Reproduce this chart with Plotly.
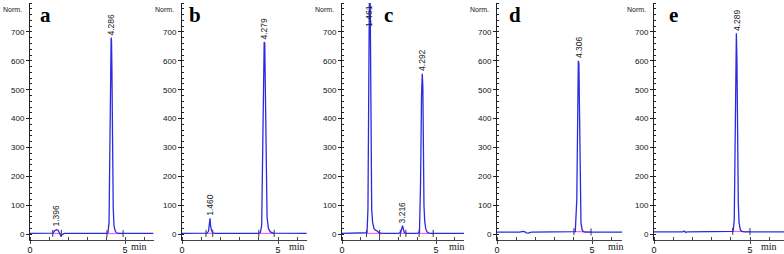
import plotly.graph_objects as go

# ---------------- data ----------------
panel_names = ["a", "b", "c", "d", "e"]

t_a = [0, 1.05, 1.2, 1.3, 1.4, 1.48, 1.55, 1.62, 1.7, 1.8, 3.95, 4.1, 4.16, 4.2, 4.24, 4.27, 4.29, 4.31, 4.34, 4.38, 4.42, 4.48, 4.55, 4.7, 6.5]
s_a = [3, 3, 4, 12, 16, 14, 6, -6, -1, 3, 3, 4, 40, 260, 590, 680, 670, 580, 280, 90, 30, 12, 5, 3, 3]

t_b = [0, 1.1, 1.3, 1.38, 1.43, 1.46, 1.49, 1.53, 1.6, 1.7, 3.95, 4.08, 4.15, 4.2, 4.24, 4.28, 4.31, 4.34, 4.38, 4.43, 4.5, 4.6, 4.75, 6.5]
s_b = [3, 3, 4, 10, 30, 55, 30, 15, 5, 3, 3, 5, 30, 310, 520, 665, 660, 520, 230, 60, 20, 8, 4, 3]

t_c = [0, 1.2, 1.33, 1.38, 1.42, 1.46, 1.5, 1.54, 1.58, 1.63, 1.7, 1.78, 1.85, 1.95, 2.1, 3.0, 3.12, 3.18, 3.22, 3.26, 3.32, 3.45, 4.0, 4.12, 4.18, 4.23, 4.27, 4.3, 4.33, 4.36, 4.4, 4.45, 4.52, 4.62, 4.8, 6.5]
s_c = [3, 3, 5, 85, 530, 860, 800, 530, 85, 40, 20, 14, 12, 6, 3, 3, 6, 20, 30, 18, 5, 3, 3, 6, 180, 480, 555, 510, 260, 100, 45, 20, 8, 4, 3, 3]

t_d = [0, 1.2, 1.35, 1.45, 1.55, 1.65, 1.8, 4.0, 4.12, 4.2, 4.24, 4.28, 4.31, 4.34, 4.38, 4.42, 4.48, 4.55, 4.65, 4.8, 6.6]
s_d = [7, 7, 10, 9, 5, 4, 7, 7, 9, 120, 430, 600, 590, 380, 150, 40, 15, 9, 7, 7, 7]

t_e = [0, 1.5, 1.58, 1.65, 1.72, 4.0, 4.12, 4.18, 4.22, 4.26, 4.29, 4.32, 4.35, 4.39, 4.43, 4.5, 4.58, 4.7, 6.8]
s_e = [8, 8, 11, 6, 8, 8, 10, 50, 260, 640, 695, 600, 310, 110, 40, 15, 10, 8, 8]

# integration baselines: (start, end, level start, level end)
base_a = [(1.2, 1.65, 3, 3), (4.05, 4.9, 2, 2)]
base_b = [(1.25, 1.6, 3, 3), (4.0, 4.8, 3, 3)]
base_c = [(1.3, 2.0, 3, 3), (3.1, 3.4, 3, 3), (4.1, 4.85, 3, 3)]
base_d = [(4.05, 4.95, 9, 8)]
base_e = [(4.1, 5.0, 10, 9)]

# peak labels: (retention time, label, label anchor level)
peaks_a = [(1.396, "1.396", 18), (4.286, "4.286", 682)]
peaks_b = [(1.460, "1.460", 57), (4.279, "4.279", 667)]
peaks_c = [(1.461, "1.461", 712), (3.216, "3.216", 32), (4.292, "4.292", 557)]
peaks_d = [(4.306, "4.306", 602)]
peaks_e = [(4.289, "4.289", 697)]

y_tick_vals = [0, 100, 200, 300, 400, 500, 600, 700]
x_tick_vals = [0, 5]

times = [t_a, t_b, t_c, t_d, t_e]
signals = [s_a, s_b, s_c, s_d, s_e]
baselines = [base_a, base_b, base_c, base_d, base_e]
peaks = [peaks_a, peaks_b, peaks_c, peaks_d, peaks_e]

# ---------------- layout geometry ----------------
W, H = 784, 254
axis_left_px = [30, 182, 342, 497, 654]
px_per_min = [19.0, 19.2, 18.8, 19.0, 19.2]
x_max = [6.5, 6.5, 6.5, 6.6, 6.77]
letter_px = [45, 195, 388, 515, 673]
min_x = [5.75, 6.0, 6.1, 6.25, 6.0]

TRACE = "#2a2ae0"
PINK = "#ff40ff"

fig = go.Figure()
annotations = []
layout = {}

for i in range(5):
    n = "" if i == 0 else str(i + 1)
    xa, ya = "x" + n, "y" + n
    x0 = axis_left_px[i] / W
    x1 = min((axis_left_px[i] + x_max[i] * px_per_min[i]) / W, 1.0)

    # integration baselines
    for (b0, b1, l0, l1) in baselines[i]:
        fig.add_trace(go.Scatter(
            x=[b0, b1], y=[l0, l1], xaxis=xa, yaxis=ya, mode="lines+markers",
            line=dict(color=PINK, width=1),
            marker=dict(symbol="line-ns", size=5, line=dict(color="#333333", width=1)),
            showlegend=False, hoverinfo="skip"))
    # signal
    fig.add_trace(go.Scatter(
        x=times[i], y=signals[i], xaxis=xa, yaxis=ya, mode="lines",
        line=dict(color=TRACE, width=1.3), showlegend=False))

    layout["xaxis" + n] = dict(
        domain=[x0, x1], range=[0, x_max[i]], anchor=ya,
        showline=True, linecolor="#444444", linewidth=1,
        showgrid=False, zeroline=False,
        tickvals=x_tick_vals, ticks="outside", ticklen=3, tickcolor="#444444",
        ticklabelstandoff=-2,
        minor=dict(dtick=1, ticks="inside", ticklen=3, tickcolor="#444444"),
        tickfont=dict(family="Arial, Liberation Sans", size=9, color="#111111"),
        automargin=False, fixedrange=True)
    layout["yaxis" + n] = dict(
        domain=[0, 1], range=[-20, 800], anchor=xa,
        showline=True, linecolor="#222222", linewidth=1,
        showgrid=False, zeroline=False,
        tickvals=y_tick_vals, ticks="outside", ticklen=3, tickcolor="#222222",
        minor=dict(dtick=20, ticks="inside", ticklen=2, tickcolor="#222222"),
        tickfont=dict(family="Arial, Liberation Sans", size=8, color="#111111"),
        automargin=False, fixedrange=True)

    # Norm. label
    annotations.append(dict(
        text="Norm.", xref=xa + " domain", yref=ya + " domain", x=0, y=1,
        xanchor="right", yanchor="top", xshift=-6, yshift=-1, showarrow=False,
        font=dict(family="Arial, Liberation Sans", size=7, color="#111111")))
    # min label
    annotations.append(dict(
        text="min", xref=xa, yref="paper", x=min_x[i], y=0,
        xanchor="center", yanchor="top", yshift=1, showarrow=False,
        font=dict(family="Liberation Serif, Times New Roman", size=10, color="#111111")))
    # panel letter
    annotations.append(dict(
        text="<b>" + panel_names[i] + "</b>", xref="paper", yref="paper",
        x=letter_px[i] / W, y=(240 - 15) / 237, xanchor="center", yanchor="middle",
        showarrow=False,
        font=dict(family="Liberation Serif, Times New Roman", size=21, color="#000000")))
    # peak labels
    for (rt, lab, lev) in peaks[i]:
        annotations.append(dict(
            text=lab, xref=xa, yref=ya, x=rt, y=lev, textangle=-90,
            xanchor="center", yanchor="bottom", showarrow=False,
            font=dict(family="Arial, Liberation Sans", size=8.5, color="#222222")))

fig.update_layout(
    width=W, height=H,
    margin=dict(l=0, r=0, t=3, b=14),
    paper_bgcolor="white", plot_bgcolor="white",
    annotations=annotations,
    **layout)

fig.write_html(
    "out.html",
    config={"displayModeBar": False, "staticPlot": True},
    post_script="document.body.style.margin='0';document.body.style.overflow='hidden';")
